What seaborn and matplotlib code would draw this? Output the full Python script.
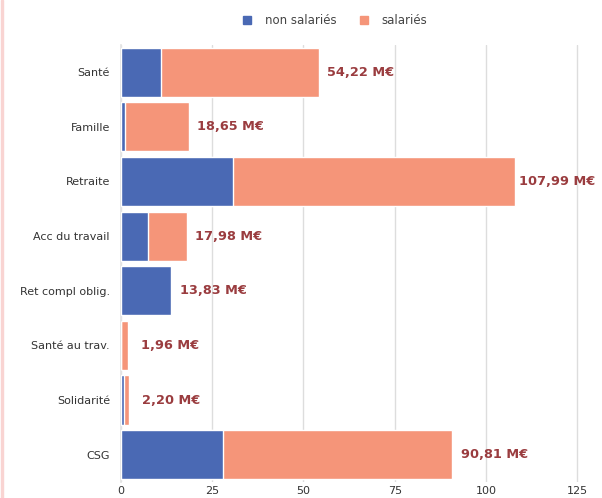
import matplotlib
matplotlib.use("Agg")
import matplotlib.pyplot as plt
import seaborn as sns
import pandas as pd
from matplotlib.lines import Line2D
from matplotlib.patches import Rectangle

categories = ["Santé", "Famille", "Retraite", "Acc du travail", "Ret compl oblig.",
              "Santé au trav.", "Solidarité", "CSG"]
non_salaries = [11.0, 1.2, 30.7, 7.4, 13.83, 0.0, 0.9, 28.0]
totals = [54.22, 18.65, 107.99, 17.98, 13.83, 1.96, 2.20, 90.81]
labels = ["54,22 M€", "18,65 M€", "107,99 M€", "17,98 M€", "13,83 M€",
          "1,96 M€", "2,20 M€", "90,81 M€"]
xticks = [0, 25, 50, 75, 100, 125]

BLUE = "#4a69b4"
SALMON = "#f59579"
LABEL = "#9a3c3f"

sns.set_theme(style="white")
plt.rcParams["font.family"] = ["DejaVu Sans"]

df = pd.DataFrame({"cat": categories, "non": non_salaries, "tot": totals})

fig = plt.figure(figsize=(6.02, 4.98), dpi=100)
ax = fig.add_axes([0.201, 0.032, 0.776, 0.878])

sns.barplot(data=df, y="cat", x="tot", color=SALMON, orient="h", width=0.9,
            saturation=1, ax=ax, zorder=2)
sns.barplot(data=df, y="cat", x="non", color=BLUE, orient="h", width=0.9,
            saturation=1, ax=ax, zorder=3)

ax.set_xlim(0, 128)
ax.set_xticks(xticks)
ax.set_xlabel("")
ax.set_ylabel("")
ax.grid(axis="x", color="#dddddd", linewidth=1, zorder=0)
ax.set_axisbelow(True)
for s in ["top", "right", "bottom"]:
    ax.spines[s].set_visible(False)
ax.spines["left"].set_color("#e4e4e4")
ax.tick_params(axis="both", length=0, labelsize=8, colors="#333333")
ax.tick_params(axis="y", pad=8)
ax.tick_params(axis="x", pad=3)

for i, (t, lab) in enumerate(zip(totals, labels)):
    ax.annotate(lab, xy=(t, i), xytext=(30, 0), textcoords="offset points",
                ha="center", va="center", fontsize=9.3, fontweight="bold", color=LABEL)

handles = [Line2D([], [], marker="s", linestyle="none", color=BLUE, markersize=5.5),
           Line2D([], [], marker="s", linestyle="none", color=SALMON, markersize=5.5)]
fig.legend(handles, ["non salariés", "salariés"], loc="center", bbox_to_anchor=(0.555, 0.958),
           ncol=2, frameon=False, fontsize=8.5, labelcolor="#444444",
           handletextpad=1.0, columnspacing=1.8, handlelength=1)

fig.add_artist(Rectangle((0.002, 0), 0.003, 1, transform=fig.transFigure,
                         color="#f9d4d2", zorder=0))

fig.savefig("out.png", dpi=100)
